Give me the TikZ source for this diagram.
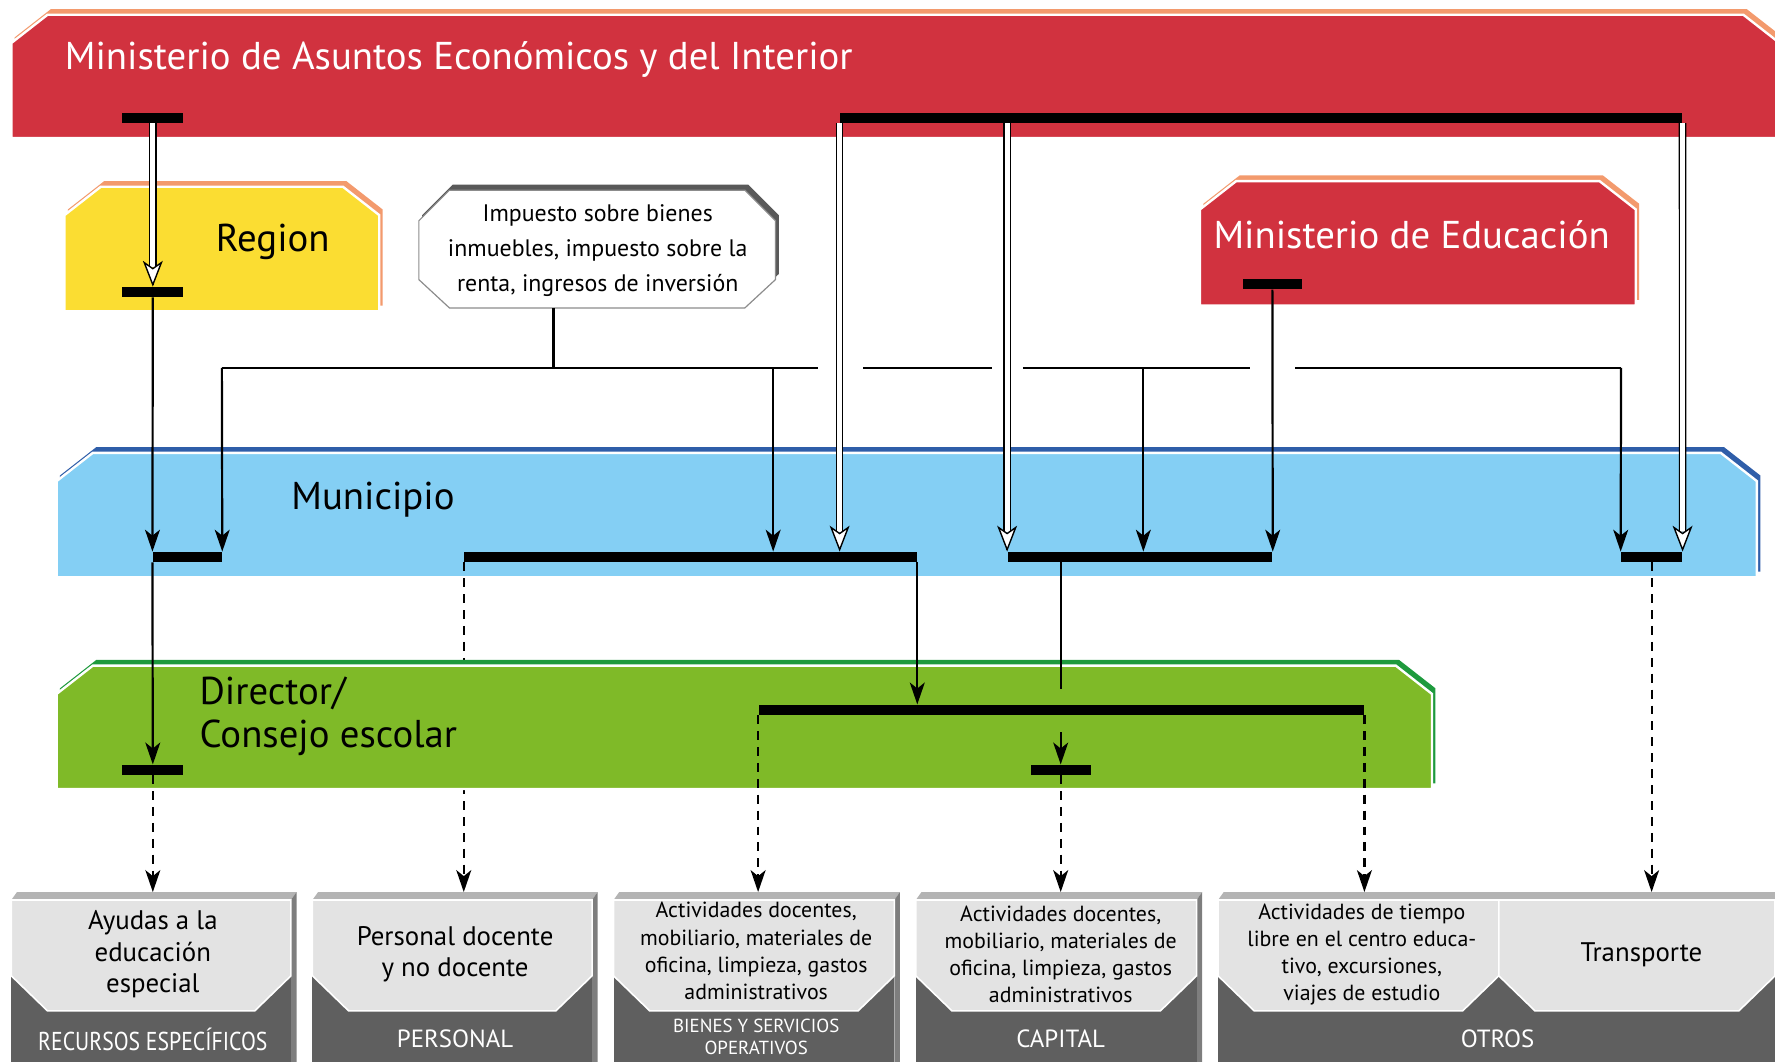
\documentclass[tikz,border=0pt]{standalone}
\usepackage{fontspec}
\setmainfont{PT Sans}
\newfontfamily\narrowfont[FakeStretch=0.84]{PT Sans}
\usetikzlibrary{arrows.meta, calc, positioning}

\definecolor{minred}{HTML}{D1323F}
\definecolor{minorange}{HTML}{F39A6D}
\definecolor{regyellow}{HTML}{FBDD32}
\definecolor{munblue}{HTML}{84CFF4}
\definecolor{munedge}{HTML}{2F5EA9}
\definecolor{dirgreen}{HTML}{7FBA28}
\definecolor{diredge}{HTML}{1E9A3D}
\definecolor{boxlight}{HTML}{E3E3E3}
\definecolor{boxdark}{HTML}{5F5F5F}
\definecolor{boxtop}{HTML}{B4B4B4}
\definecolor{boxside}{HTML}{7E7E7E}

\tikzset{
	bar/.style={fill=black, inner sep=0pt, minimum height=5pt},
	wire/.style={line width=1.1pt},
	arr/.style={wire, -{Stealth[length=11pt, width=7.5pt, inset=3pt]}},
	dasharr/.style={arr, dash pattern=on 4.5pt off 3.5pt},
	dbl/.style={line width=.7pt, double=white, double distance=2.4pt, shorten >=10pt},
	dbltip/.style={line width=.7pt, -{Stealth[open, fill=white, length=13pt, width=10pt, inset=3.5pt]}},
	bigtext/.style={font=\fontsize{19.5}{21.5}\selectfont, inner sep=0pt},
	taxtext/.style={font=\fontsize{12}{17.6}\selectfont, align=center, inner sep=0pt},
	boxtext/.style={font=\fontsize{13.5}{15.9}\selectfont, align=center, inner sep=0pt},
	smalltext/.style={font=\fontsize{11}{13.6}\selectfont, align=center, inner sep=0pt},
	labeltext/.style={font=\fontsize{12.5}{14}\selectfont, text=white, align=center, inner sep=0pt}
}

\newcommand{\chamferbox}[6]{%
	\fill[#1, shift={(3,-5)}] (#3,#4+25) -- (#3+32,#4) -- (#5-32,#4) -- (#5,#4+25) -- (#5,#6) -- (#3,#6) -- cycle;
	\fill[#2, draw=white, line width=1.2pt] (#3,#4+25) -- (#3+32,#4) -- (#5-32,#4) -- (#5,#4+25) -- (#5,#6) -- (#3,#6) -- cycle;
}

\begin{document}
\begin{tikzpicture}[x=0.02cm, y=-0.02cm]
	\useasboundingbox (0,0) rectangle (1568,938);
	\clip (0,0) rectangle (1568,938);

	\coordinate (boxtop) at (0,788);
	\coordinate (taxfoot) at (489,272);
	\coordinate (hL) at (196,325);
	\coordinate (h2) at (683,325);
	\coordinate (h3) at (1010,325);
	\coordinate (hR) at (1432,325);

	\chamferbox{minorange}{minred}{10}{13}{1572}{122}
	\chamferbox{minorange}{regyellow}{57}{165}{335}{275}
	\chamferbox{minorange}{minred}{1060}{160}{1445}{270}
	\chamferbox{munedge}{munblue}{50}{400}{1552}{510}

	\fill[black!65, shift={(3,-5)}] (370,195) -- (397,168) -- (658,168) -- (685,195) -- (685,247) -- (658,272) -- (397,272) -- (370,247) -- cycle;
	\filldraw[fill=white, draw=black!45, line width=.6pt] (370,195) -- (397,168) -- (658,168) -- (685,195) -- (685,247) -- (658,272) -- (397,272) -- (370,247) -- cycle;

	\foreach \l/\r in {10/262, 276/528, 542/795, 809/1062}{
		\fill[boxtop] (\l,795) -- (\l+5,788) -- (\r,788) -- (\r-5,795) -- cycle;
		\fill[boxside] (\r-5,795) -- (\r,788) -- (\r,938) -- (\r-5,938) -- cycle;
		\fill[boxdark] (\l,862) rectangle (\r-5,938);
		\filldraw[fill=boxlight, draw=white, line width=.8pt] (\l,795) -- (\r-5,795) -- (\r-5,862) -- (\r-37,893) -- (\l+32,893) -- (\l,862) -- cycle;
	}
	\fill[boxtop] (1076,795) -- (1081,788) -- (1575,788) -- (1575,795) -- cycle;
	\fill[boxdark] (1076,862) rectangle (1575,938);
	\filldraw[fill=boxlight, draw=white, line width=.8pt] (1076,795) -- (1324,795) -- (1324,862) -- (1292,893) -- (1108,893) -- (1076,862) -- cycle;
	\filldraw[fill=boxlight, draw=white, line width=.8pt] (1324,795) -- (1568,795) -- (1568,862) -- (1536,893) -- (1356,893) -- (1324,862) -- cycle;

	\node[bigtext, text=white, anchor=west] (mineco) at (57,53) {Ministerio de Asuntos Económicos y del Interior};
	\node[bigtext] (region) at (241,214) {Region};
	\node[bigtext, text=white] (mined) at (1247,207) {Ministerio de Educación};
	\node[bigtext, anchor=west] (mun) at (257,441) {Municipio};
	\node[taxtext] (tax) at (528,221) {Impuesto sobre bienes\\inmuebles, impuesto sobre la\\renta, ingresos de inversión};

	\node[bar, minimum width=8cm] (uB) at (610,492) {};
	\draw[dasharr] (uB.south west) -- (uB.south west |- boxtop);

	\chamferbox{diredge}{dirgreen}{50}{588}{1265}{697}
	\node[bigtext, anchor=west, align=left] (dir) at (176,633) {Director/\\Consejo escolar};

	\node[boxtext] (b1) at (135,843) {Ayudas a la\\educación\\especial};
	\node[boxtext] (b2) at (402,843) {Personal docente\\y no docente};
	\node[smalltext] (b3) at (668,840) {Actividades docentes,\\mobiliario, materiales de\\oficina, limpieza, gastos\\administrativos};
	\node[smalltext] (b4) at (937,843) {Actividades docentes,\\mobiliario, materiales de\\oficina, limpieza, gastos\\administrativos};
	\node[smalltext] (b5) at (1203,843) {Actividades de tiempo\\libre en el centro educa-\\tivo, excursiones,\\viajes de estudio};
	\node[boxtext] (b6) at (1450,843) {Transporte};
	\node[labeltext, font=\narrowfont\fontsize{13}{14}\selectfont] (l1) at (135,918) {RECURSOS ESPECÍFICOS};
	\node[labeltext] (l2) at (402,918) {PERSONAL};
	\node[labeltext, font=\fontsize{9.5}{10.8}\selectfont] (l3) at (668,916) {BIENES Y SERVICIOS\\OPERATIVOS};
	\node[labeltext] (l4) at (937,918) {CAPITAL};
	\node[labeltext] (l5) at (1323,918) {OTROS};

	\node[bar, minimum width=1.08cm] (mA) at (135,104) {};
	\node[bar, minimum width=14.88cm] (mB) at (1114,104) {};
	\node[bar, minimum width=1.08cm] (rg) at (135,258) {};
	\node[bar, minimum width=1.04cm] (ed) at (1124,251) {};
	\node[bar, minimum width=1.22cm] (uA) at (165.5,492) {};
	\node[bar, minimum width=4.68cm] (uC) at (1007,492) {};
	\node[bar, minimum width=1.08cm] (uD) at (1459,492) {};
	\node[bar, minimum width=1.08cm] (dA) at (135,680) {};
	\node[bar, minimum width=10.7cm] (dB) at (937.5,627) {};
	\node[bar, minimum width=1.06cm] (dC) at (937,680) {};

	\draw[wire] (taxfoot) -- (taxfoot |- hL);
	\draw[wire] (hL) -- ($(hL -| mB.south west)+(-19,0)$)
		($(hL -| mB.south west)+(21,0)$) -- ($(hL -| uC.north west)+(-13,0)$)
		($(hL -| uC.north west)+(14,0)$) -- ($(hL -| ed.south)+(-20,0)$)
		($(hL -| ed.south)+(20,0)$) -- (hR);
	\draw[arr] (hL) -- (uA.north east);
	\draw[arr] (h2) -- (h2 |- uB.north);
	\draw[arr] (h3) -- (h3 |- uC.north);
	\draw[arr] (hR) -- (uD.north west);
	\draw[arr] (ed.south) -- (uC.north east);

	\draw[dbl] (mA.south) -- (rg.north);
	\draw[dbltip] ([yshift=1pt]rg.north) -- (rg.north);
	\draw[dbl] (mB.south west) -- (mB.south west |- uB.north);
	\draw[dbltip] ([yshift=1pt]mB.south west |- uB.north) -- (mB.south west |- uB.north);
	\draw[dbl] (mB.south -| uC.north west) -- (uC.north west);
	\draw[dbltip] ([yshift=1pt]uC.north west) -- (uC.north west);
	\draw[dbl] (mB.south east) -- (uD.north east);
	\draw[dbltip] ([yshift=1pt]uD.north east) -- (uD.north east);

	\draw[arr] (rg.south) -- (uA.north west);
	\draw[arr] (uA.south west) -- (dA.north);
	\draw[arr] (uB.south east) -- (uB.south east |- dB.north);
	\draw[wire] (uC.south -| dC.north) -- ($(dB.north -| dC.north)+(0,-14)$);
	\draw[arr] ($(dB.south -| dC.north)+(0,15)$) -- (dC.north);

	\draw[dasharr] (dA.south) -- (dA.south |- boxtop);
	\draw[dasharr] (dB.south west) -- (dB.south west |- boxtop);
	\draw[dasharr] (dC.south) -- (dC.south |- boxtop);
	\draw[dasharr] (dB.south east) -- (dB.south east |- boxtop);
	\draw[dasharr] (uD.south) -- (uD.south |- boxtop);
\end{tikzpicture}
\end{document}
